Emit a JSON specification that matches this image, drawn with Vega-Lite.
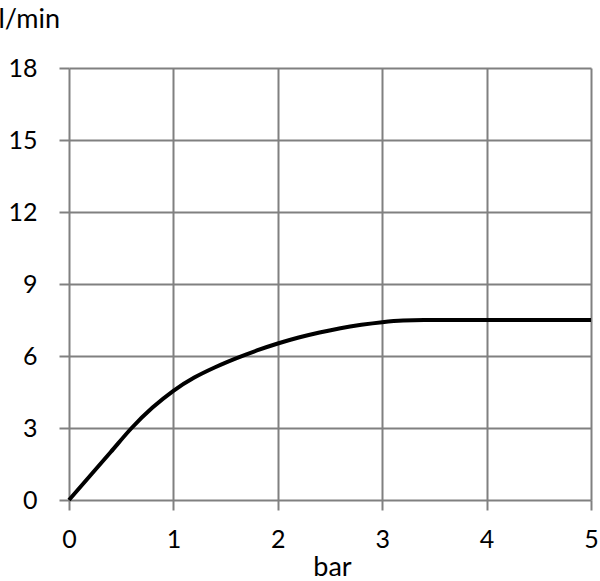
{
  "$schema": "https://vega.github.io/schema/vega-lite/v6.json",
  "width": 522,
  "height": 432,
  "autosize": {"type": "none"},
  "padding": {"left": 69, "top": 68, "right": 9, "bottom": 81},
  "background": "white",
  "config": {
    "view": {"stroke": null},
    "axis": {
      "labelFont": "Lato",
      "titleFont": "Lato",
      "labelFontSize": 25,
      "titleFontSize": 27,
      "labelColor": "#000000",
      "titleColor": "#000000",
      "titleFontWeight": "normal",
      "gridColor": "#808080",
      "gridWidth": 2,
      "gridOpacity": 1,
      "tickColor": "#808080",
      "tickWidth": 2,
      "tickSize": 10,
      "domain": false
    }
  },
  "data": {
    "values": [
      {"bar": 0, "flow": 0},
      {"bar": 0.2, "flow": 1.0},
      {"bar": 0.4, "flow": 2.0},
      {"bar": 0.6, "flow": 3.0},
      {"bar": 0.8, "flow": 3.85},
      {"bar": 1.0, "flow": 4.55},
      {"bar": 1.2, "flow": 5.1},
      {"bar": 1.4, "flow": 5.53},
      {"bar": 1.6, "flow": 5.9},
      {"bar": 1.8, "flow": 6.23},
      {"bar": 2.0, "flow": 6.52},
      {"bar": 2.2, "flow": 6.77},
      {"bar": 2.4, "flow": 6.98},
      {"bar": 2.6, "flow": 7.16},
      {"bar": 2.8, "flow": 7.3},
      {"bar": 3.0, "flow": 7.41},
      {"bar": 3.2, "flow": 7.48},
      {"bar": 3.4, "flow": 7.5},
      {"bar": 5.0, "flow": 7.5}
    ]
  },
  "mark": {"type": "line", "color": "#000000", "strokeWidth": 4, "interpolate": "monotone"},
  "encoding": {
    "x": {
      "field": "bar",
      "type": "quantitative",
      "scale": {"domain": [0, 5], "nice": false},
      "axis": {
        "values": [0, 1, 2, 3, 4, 5],
        "format": "d",
        "title": "bar",
        "labelFlush": false,
        "labelPadding": 17,
        "labelBaseline": "top",
        "titleX": 263,
        "titleY": 75,
        "titleAlign": "center",
        "titleBaseline": "alphabetic"
      }
    },
    "y": {
      "field": "flow",
      "type": "quantitative",
      "scale": {"domain": [0, 18], "nice": false},
      "axis": {
        "values": [0, 3, 6, 9, 12, 15, 18],
        "format": "d",
        "title": "l/min",
        "labelPadding": 22,
        "titleAngle": 0,
        "titleX": -71,
        "titleY": -41,
        "titleAlign": "left",
        "titleBaseline": "alphabetic"
      }
    }
  }
}
